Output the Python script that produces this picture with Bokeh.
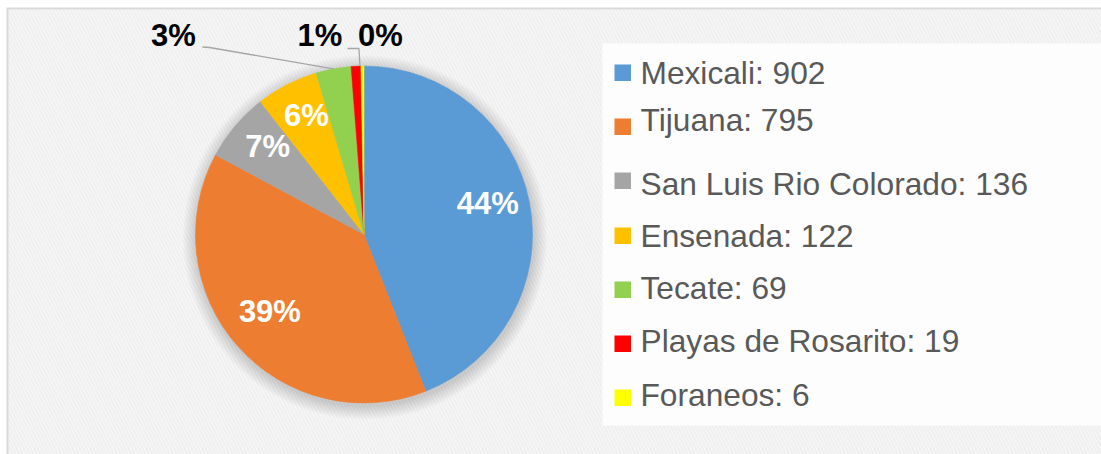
from math import pi, sin, cos
from bokeh.plotting import figure
from bokeh.models import Range1d, ColumnDataSource
from bokeh.core.properties import value
from bokeh.embed import file_html
from bokeh.resources import INLINE

# ---------------- data ----------------
categories = ["Mexicali", "Tijuana", "San Luis Rio Colorado", "Ensenada",
              "Tecate", "Playas de Rosarito", "Foraneos"]
counts = [902, 795, 136, 122, 69, 19, 6]
colors = ["#5B9BD5", "#ED7D31", "#A5A5A5", "#FFC000", "#92D050", "#FF0000", "#FFFF00"]

# ---------------- layout (page pixels) ----------------
W, H = 1101, 454
CX, CY, R = 363.5, 234.0, 168.5          # pie centre / radius on the page
LEG_SQ_TOP = [64, 118, 172, 227, 281, 335, 389]
LEG_BASE = [82, 129, 193, 245, 297, 350, 404]
OUT_DX = {"Tecate": -160, "Playas de Rosarito": -36, "Foraneos": 18}
TXT_SHIFT = 10   # renderer places alphabetic baseline lower; compensate


def Y(py):
    return H - py


p = figure(width=W, height=H, x_range=Range1d(0, W), y_range=Range1d(0, H),
           output_backend="svg", toolbar_location=None,
           x_axis_type=None, y_axis_type=None, min_border=0)
p.min_border_left = p.min_border_right = p.min_border_top = p.min_border_bottom = 0
p.grid.visible = False
p.outline_line_color = None
p.background_fill_color = "white"
p.border_fill_color = "white"

# chart background with faint hatch
p.quad(left=7, right=W, top=Y(9), bottom=Y(H), fill_color="#fbfbfb",
       line_color=None, hatch_pattern="left_diagonal_line", hatch_color="#f0f0f0",
       hatch_scale=7, hatch_weight=2.5)
# chart border (top & left visible)
p.line([6, W], [Y(8), Y(8)], line_color="#d9d9d9", line_width=2)
p.line([7, 7], [Y(8), Y(H)], line_color="#d9d9d9", line_width=2)
# legend box
p.quad(left=602, right=W, top=Y(43), bottom=Y(425), fill_color="#fdfdfd", line_color=None)

# soft shadow
for k in range(1, 15):
    p.circle(x=[CX + 1], y=[Y(CY + 3)], radius=R + k, fill_color="black",
             fill_alpha=0.012, line_color=None)

# ---------------- wedges ----------------
total = sum(counts)
fracs = [c / total for c in counts]
cum = [0.0]
for f in fracs:
    cum.append(cum[-1] + f)
starts = [pi / 2 - 2 * pi * cum[i + 1] for i in range(len(counts))]
ends = [pi / 2 - 2 * pi * cum[i] for i in range(len(counts))]
src = ColumnDataSource(dict(cat=categories, cnt=counts, color=colors,
                            start=starts, end=ends))
p.wedge(x=CX, y=Y(CY), radius=R, start_angle="start", end_angle="end",
        direction="anticlock", fill_color="color", line_color="color",
        line_width=0.5, source=src)

# ---------------- data labels ----------------
pct = [f"{round(100 * f)}%" for f in fracs]
mids = [2 * pi * (cum[i] + cum[i + 1]) / 2 for i in range(len(counts))]  # clockwise from top
in_x, in_y, in_t = [], [], []
out_x, out_y, out_t = [], [], []
leader_xs, leader_ys = [], []
for i, name in enumerate(categories):
    th = mids[i]
    if fracs[i] >= 0.05:
        r = 126
        in_x.append(CX + r * sin(th))
        in_y.append(Y(CY - r * cos(th) - 8 + 11 - TXT_SHIFT))
        in_t.append(pct[i])
    else:
        ex, ey = CX + R * sin(th), CY - R * cos(th)
        lx = ex + OUT_DX[name]
        by = CY - R - 20.5
        out_x.append(lx)
        out_y.append(Y(by - TXT_SHIFT))
        out_t.append(pct[i])
        if name == "Tecate":
            pts = [(lx + 29, by + 1.5), (lx + 36, by + 2), (ex, ey)]
        elif name == "Foraneos":
            pts = [(lx - 33, by + 3), (ex - 3.5, by + 3), (ex - 2.5, ey)]
        else:
            pts = None
        if pts:
            leader_xs.append([q[0] for q in pts])
            leader_ys.append([Y(q[1]) for q in pts])

p.multi_line(xs=leader_xs, ys=leader_ys, line_color="#a6a6a6", line_width=1.3)
p.text(x=in_x, y=in_y, text=in_t, text_font=value("Liberation Sans"),
       text_font_style="bold", text_font_size="31px", text_color="white",
       text_align="center", text_baseline="alphabetic")
p.text(x=out_x, y=out_y, text=out_t, text_font=value("Liberation Sans"),
       text_font_style="bold", text_font_size="31px", text_color="black",
       text_align="center", text_baseline="alphabetic")

# ---------------- legend ----------------
leg_labels = [f"{c}: {v}" for c, v in zip(categories, counts)]
p.quad(left=[614] * len(categories), right=[630.5] * len(categories),
       top=[Y(t) for t in LEG_SQ_TOP], bottom=[Y(t + 16.5) for t in LEG_SQ_TOP],
       fill_color=colors, line_color=None)
p.text(x=[640] * len(categories), y=[Y(b - TXT_SHIFT) for b in LEG_BASE], text=leg_labels,
       text_font=value("Liberation Sans"), text_font_size="31.7px",
       text_color="#595959", text_align="left", text_baseline="alphabetic")

open("out.html", "w").write(file_html(p, INLINE))
